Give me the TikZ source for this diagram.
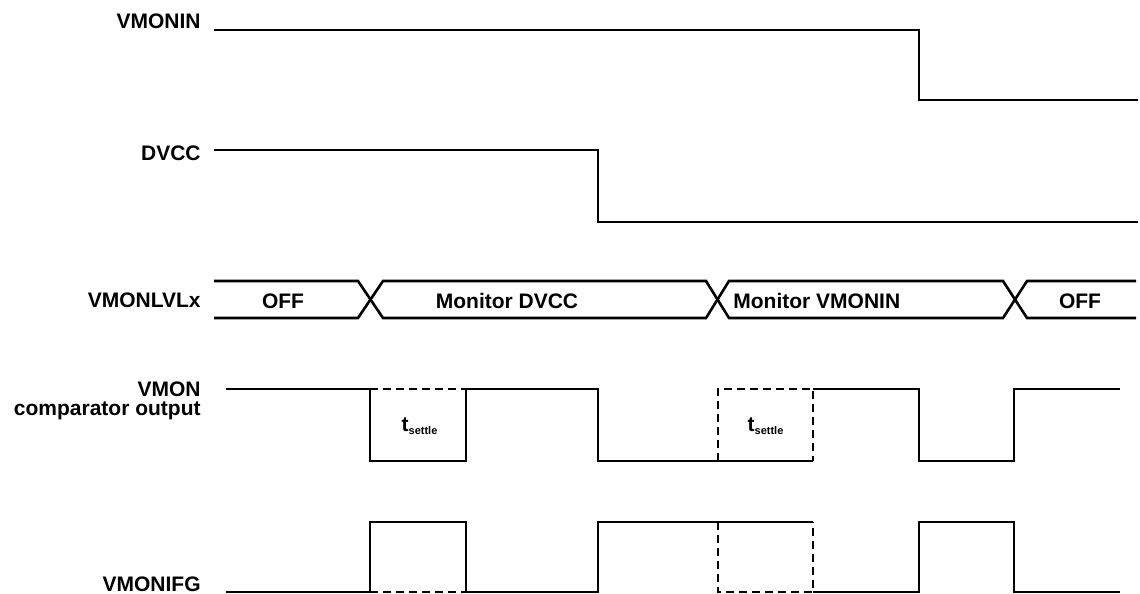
\documentclass[tikz,border=0pt]{standalone}
\usepackage{fontspec}
\setmainfont{Liberation Sans}
\tikzset{
    sig/.style={line width=1.3pt},
    ghost/.style={sig, dash pattern=on 4pt off 2.5pt},
    lbl/.style={font=\fontsize{10.5}{9.5}\selectfont\bfseries, anchor=east, inner sep=0pt, align=right},
    buslbl/.style={font=\fontsize{10.5}{12}\selectfont\bfseries, inner sep=0pt},
    tlbl/.style={font=\fontsize{10.5}{12}\selectfont\bfseries, inner sep=0pt}
}
\newcommand{\tsettle}{t\textsubscript{\fontsize{5.5}{6}\selectfont settle}}
\begin{document}
\begin{tikzpicture}[x=0.5pt, y=-0.5pt]
    \useasboundingbox (0,0) rectangle (1140,594);
    % signal names
    \node[lbl] (nin) at (201,21) {VMONIN};
    \node[lbl] (ndvcc) at (201,153) {DVCC};
    \node[lbl] (nlvl) at (201,300) {VMONLVLx};
    \node[lbl] (ncmp) at (201,401) {VMON\\comparator output};
    \node[lbl] (nfg) at (201,584) {VMONIFG};
    % supplies
    \draw[sig] (214,30) -- (919,30) -- (919,100) -- (1138,100);
    \draw[sig] (214,150) -- (598,150) -- (598,222) -- (1138,222);
    % level select bus
    \draw[sig] (214,281) -- (358,281) -- (383,318) -- (706,318) -- (729,281) -- (1003,281) -- (1027,318) -- (1136,318);
    \draw[sig] (214,318) -- (358,318) -- (383,281) -- (706,281) -- (729,318) -- (1003,318) -- (1027,281) -- (1136,281);
    \node[buslbl] (off1) at (283,301) {OFF};
    \node[buslbl] (mdvcc) at (507,301) {Monitor DVCC};
    \node[buslbl, anchor=west] (mvin) at (733,301) {Monitor VMONIN};
    \node[buslbl] (off2) at (1080,301) {OFF};
    % comparator output: high 389, low 461
    \draw[sig] (226,389) -- (370,389) -- (370,461) -- (466,461) -- (466,389) -- (598,389) -- (598,461) -- (813,461);
    \draw[sig] (813,389) -- (919,389) -- (919,461) -- (1014,461) -- (1014,389) -- (1120,389);
    \draw[ghost] (370,389) -- (466,389);
    \draw[ghost] (718,461) -- (718,389) -- (813,389) -- (813,461);
    \node[tlbl] (ts1) at (420,426) {\tsettle};
    \node[tlbl] (ts2) at (766,426) {\tsettle};
    % interrupt flag: high 522, low 592
    \draw[sig] (226,592) -- (370,592) -- (370,522) -- (466,522) -- (466,592) -- (598,592) -- (598,522) -- (813,522);
    \draw[sig] (813,592) -- (919,592) -- (919,522) -- (1014,522) -- (1014,592) -- (1120,592);
    \draw[ghost] (370,592) -- (466,592);
    \draw[ghost] (718,522) -- (718,592) -- (813,592) -- (813,522);
\end{tikzpicture}
\end{document}
